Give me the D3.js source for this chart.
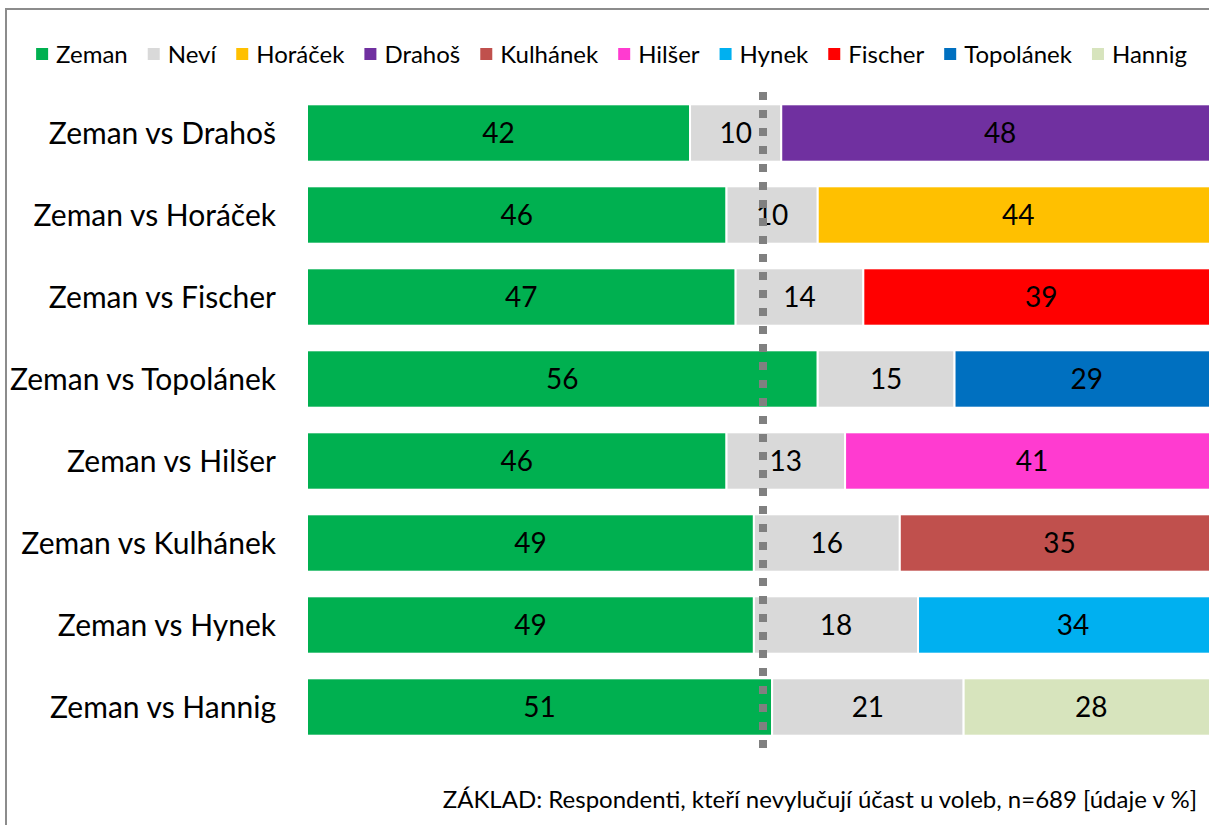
<!DOCTYPE html>
<html>
<head>
<meta charset="utf-8">
<script src="https://cdn.jsdelivr.net/npm/d3@7"></script>
<style>
  body { margin: 0; background: #fff; }
  svg { display: block; font-family: Lato, "Open Sans", sans-serif; }
</style>
</head>
<body>
<svg id="chart" width="1209" height="825"></svg>
<script>
// row labels, top to bottom
const categories = ["Zeman vs Drahoš", "Zeman vs Horáček", "Zeman vs Fischer", "Zeman vs Topolánek",
    "Zeman vs Hilšer", "Zeman vs Kulhánek", "Zeman vs Hynek", "Zeman vs Hannig"];
const opponents = ["Drahoš", "Horáček", "Fischer", "Topolánek", "Hilšer", "Kulhánek", "Hynek", "Hannig"];
const zemanValues = [42, 46, 47, 56, 46, 49, 49, 51];
const neviValues = [10, 10, 14, 15, 13, 16, 18, 21];
const opponentValues = [48, 44, 39, 29, 41, 35, 34, 28];

const legendNames = ["Zeman", "Neví", "Horáček", "Drahoš", "Kulhánek", "Hilšer", "Hynek", "Fischer", "Topolánek", "Hannig"];
const legendColors = ["#00B050", "#D9D9D9", "#FFC000", "#7030A0", "#C0504D", "#FF3BD0", "#00B0F0", "#FF0000", "#0070C0", "#D7E4BD"];

const footnote = "ZÁKLAD: Respondenti, kteří nevylučují účast u voleb, n=689 [údaje v %]";

const svg = d3.select("#chart");
const color = d3.scaleOrdinal().domain(legendNames).range(legendColors);

// frame
svg.append("rect")
    .attr("x", 6).attr("y", 9)
    .attr("width", 1220).attr("height", 840)
    .attr("fill", "none").attr("stroke", "#8c8c8c").attr("stroke-width", 2);

const x = d3.scaleLinear().domain([0, 100]).range([307, 1219]);
const y = d3.scaleBand().domain(categories).range([92, 748]).paddingInner(0.3).paddingOuter(0.15);

// build stacked rows
const rows = categories.map((c, i) => {
    const segs = [
        {name: "Zeman", value: zemanValues[i]},
        {name: "Neví", value: neviValues[i]},
        {name: opponents[i], value: opponentValues[i]}
    ];
    let acc = 0;
    segs.forEach(s => { s.x0 = acc; acc += s.value; s.x1 = acc; });
    return {cat: c, segs: segs};
});

const rowG = svg.selectAll("g.row").data(rows).join("g")
    .attr("class", "row")
    .attr("transform", d => `translate(0,${y(d.cat)})`);

rowG.selectAll("rect").data(d => d.segs).join("rect")
    .attr("x", d => x(d.x0))
    .attr("width", d => x(d.x1) - x(d.x0))
    .attr("height", y.bandwidth())
    .attr("fill", d => color(d.name))
    .attr("stroke", "#fff").attr("stroke-width", 2);

// 50% marker
svg.append("line")
    .attr("x1", x(50)).attr("x2", x(50))
    .attr("y1", 92).attr("y2", 752)
    .attr("stroke", "#808080").attr("stroke-width", 8)
    .attr("stroke-dasharray", "8 10");

rowG.selectAll("text.val").data(d => d.segs).join("text")
    .attr("class", "val")
    .attr("x", d => (x(d.x0) + x(d.x1)) / 2)
    .attr("y", y.bandwidth() / 2)
    .attr("dy", "0.36em")
    .attr("text-anchor", "middle")
    .attr("font-size", 28)
    .attr("fill", "#000")
    .text(d => d.value);

// category labels
rowG.append("text")
    .attr("x", 276)
    .attr("y", y.bandwidth() / 2)
    .attr("dy", "0.36em")
    .attr("text-anchor", "end")
    .attr("font-size", 30)
    .attr("fill", "#000")
    .text(d => d.cat);

// legend, flowed by measured text width
const legend = svg.append("g");
let lx = 0;
legendNames.forEach(n => {
    const g = legend.append("g").attr("transform", `translate(${lx},0)`);
    g.append("rect").attr("x", 0).attr("y", -6).attr("width", 12).attr("height", 12).attr("fill", color(n));
    const t = g.append("text").attr("x", 20).attr("dy", "0.36em")
        .attr("font-size", 24).attr("fill", "#000").text(n);
    lx += 20 + t.node().getComputedTextLength() + 20;
});
const lw = lx - 20;
legend.attr("transform", `translate(${38 + (1147 - lw) / 2},54)`);

svg.append("text")
    .attr("x", 1197).attr("y", 808)
    .attr("text-anchor", "end")
    .attr("font-size", 24)
    .attr("fill", "#000")
    .text(footnote);
</script>
</body>
</html>
